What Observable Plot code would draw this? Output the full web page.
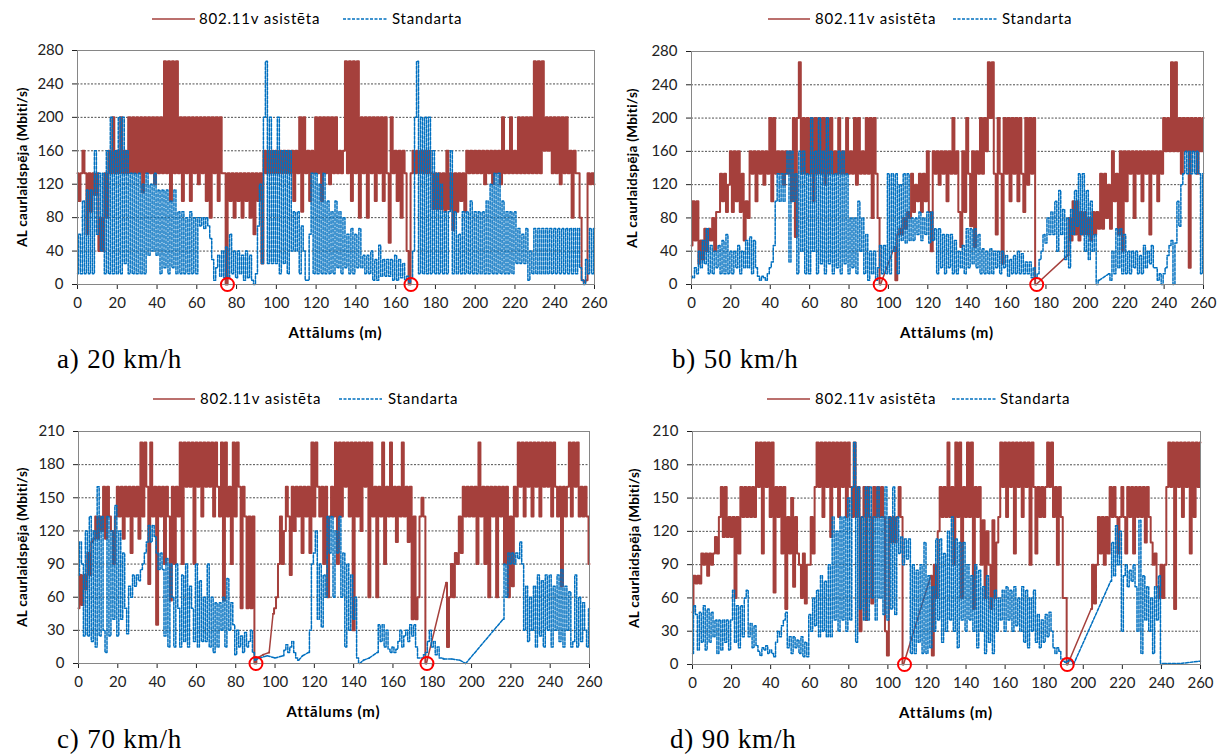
<!DOCTYPE html>
<html>
<head>
<meta charset="utf-8">
<script src="https://cdn.jsdelivr.net/npm/d3@7"></script>
<script src="https://cdn.jsdelivr.net/npm/@observablehq/plot@0.6"></script>
<style>
  body { margin: 0; background: #fff; }
  #root { position: relative; width: 1222px; height: 754px; overflow: hidden; font-family: Lato, "Open Sans", sans-serif; color: #000; }
  .abs { position: absolute; white-space: nowrap; line-height: 1; }
  .leg { font-size: 15px; letter-spacing: 0.8px; }
  .cap { font-family: "Liberation Serif", "Times New Roman", serif; font-size: 27px; letter-spacing: 0.8px; }
  .xt { font-weight: bold; font-size: 15px; letter-spacing: 0.8px; transform: translateX(-50%); }
  .yt { font-weight: bold; font-size: 13.5px; letter-spacing: 0.3px; transform: translate(-50%, -50%) rotate(-90deg); }
  svg.leg-swatch { position: absolute; overflow: visible; }
</style>
</head>
<body>
<div id="root"></div>
<script>
// Distance axis: one sample per metre, 0..260 m. null = no sample (line joins across).
const seriesNames = ["802.11v asistēta", "Standarta"];
const xTicks = [0, 20, 40, 60, 80, 100, 120, 140, 160, 180, 200, 220, 240, 260];
const yTicksHigh = [0, 40, 80, 120, 160, 200, 240, 280];
const yTicksLow = [0, 30, 60, 90, 120, 150, 180, 210];

// a) 20 km/h
const aRed = [
  133,100,133,160,133,60,133,87,133,107,
  133,40,80,40,133,80,160,133,200,133,
  160,133,200,133,160,133,200,133,200,133,
  200,133,200,110,200,133,200,133,200,120,
  200,133,200,133,267,133,267,100,267,133,
  267,133,200,100,200,133,200,100,200,133,
  200,120,200,133,200,100,200,80,200,133,
  200,100,200,133,133,0,133,100,133,80,
  133,100,133,80,133,100,133,80,133,60,
  133,100,133,25,160,133,160,133,160,133,
  160,133,160,133,160,133,160,133,160,100,
  160,133,200,87,200,133,160,100,160,133,
  200,133,200,100,200,133,200,120,200,133,
  200,133,160,133,160,267,133,267,100,267,
  133,267,80,200,133,200,80,200,133,200,
  100,200,133,200,100,200,133,50,200,133,
  160,100,160,80,160,133,40,0,133,160,
  133,160,133,160,133,160,133,160,133,90,
  133,90,133,90,133,87,160,90,133,65,
  133,87,133,100,133,87,160,133,160,133,
  160,133,160,133,160,120,160,133,160,120,
  160,133,160,120,200,133,160,133,200,133,
  160,133,200,133,200,133,200,133,200,133,
  267,133,267,133,267,160,200,160,200,133,
  200,133,200,120,200,133,200,133,160,80,
  160,133,133,80,5,3,5,133,120,133,
  120
];
const aBlue = [
  13,60,13,100,13,113,13,113,13,160,
  60,133,40,133,13,160,13,200,13,160,
  13,200,13,200,25,160,13,133,13,133,
  13,133,13,120,13,133,35,120,40,133,
  35,113,13,113,20,113,13,100,20,113,
  13,87,13,87,13,80,13,87,13,80,
  13,80,70,80,67,80,70,55,30,5,
  20,35,10,40,8,45,8,60,13,40,
  8,40,13,35,5,40,8,35,5,0,
  13,70,120,25,200,267,25,200,25,160,
  25,200,13,160,25,160,13,160,40,87,
  40,87,13,70,40,5,5,60,133,13,
  133,13,120,13,133,13,100,13,87,13,
  100,20,87,13,80,20,60,13,67,13,
  60,20,67,20,35,13,35,13,40,5,
  30,5,47,10,30,10,30,10,30,5,
  35,5,30,8,25,5,10,3,8,40,
  200,267,13,200,13,200,13,200,13,160,
  13,133,13,120,13,87,13,87,160,13,
  87,13,60,13,87,13,87,13,100,13,
  87,13,87,13,87,13,100,13,120,13,
  133,13,133,13,100,13,87,13,87,13,
  87,25,67,25,60,25,67,5,40,13,
  67,13,67,13,67,13,67,13,67,13,
  67,13,67,13,67,13,67,13,67,13,
  67,13,67,20,5,0,30,13,67,13,
  67
];
const aHandover = [75.4, 167.7];

// b) 50 km/h
const bRed = [
  47,100,53,100,25,53,30,67,40,67,
  53,80,40,87,87,133,100,133,87,120,
  160,87,160,100,160,87,133,53,100,80,
  160,133,160,100,160,133,160,120,160,133,
  200,100,200,133,160,133,160,120,160,133,
  160,100,200,57,200,267,133,200,133,200,
  133,200,100,200,133,200,133,200,120,200,
  133,200,133,160,133,200,133,160,133,200,
  133,160,133,200,120,200,133,160,133,200,
  133,200,80,200,133,80,0,null,null,null,
  null,null,null,45,5,60,67,60,80,67,
  87,80,133,87,120,100,133,87,133,100,
  160,87,40,160,133,160,120,160,133,160,
  100,160,133,200,133,160,87,45,160,87,
  200,133,70,160,45,160,133,200,133,200,
  160,267,200,267,133,60,200,133,25,200,
  133,200,100,200,133,200,100,200,133,87,
  200,120,200,133,200,0,null,null,null,null,
  null,null,null,null,null,null,null,null,null,null,
  null,35,80,53,100,60,100,53,87,60,
  87,60,80,53,87,60,87,67,133,67,
  133,80,120,67,160,100,133,60,160,40,
  160,100,160,133,160,80,160,133,160,100,
  160,133,160,60,160,133,160,100,160,133,
  200,160,200,160,267,160,267,160,200,133,
  200,160,200,20,200,160,200,133,200,160,
  200
];
const bBlue = [
  10,8,20,13,40,20,53,25,67,13,
  47,13,40,20,47,13,53,13,60,13,
  40,13,40,20,47,13,40,20,53,20,
  57,13,53,20,10,5,10,8,5,13,
  20,27,47,100,133,100,133,100,133,160,
  27,160,100,133,13,160,40,160,13,133,
  13,200,40,160,13,200,25,160,13,200,
  25,160,13,133,20,160,13,160,25,133,
  13,80,20,80,13,100,40,80,13,60,
  5,40,13,40,5,20,47,13,47,13,
  133,13,133,40,133,13,120,53,133,50,
  133,53,80,53,80,60,87,53,80,60,
  87,50,87,53,67,13,67,20,60,13,
  60,20,60,13,53,13,40,20,47,13,
  67,20,67,25,67,20,60,13,43,13,
  40,13,43,13,40,20,40,13,40,20,
  35,10,30,13,35,13,40,13,37,13,
  27,13,27,8,20,8,13,30,40,60,
  50,80,60,87,60,100,40,113,60,90,
  30,80,20,90,60,113,70,133,60,133,
  40,113,30,100,40,60,0,5,null,null,
  null,null,13,5,40,13,67,20,67,13,
  60,13,40,13,40,20,40,13,35,13,
  47,20,40,25,47,20,20,5,13,0,
  13,20,35,47,53,0,50,100,70,120,
  133,160,133,160,133,160,133,160,133,13,
  133
];
const bHandover = [95.8, 175.3];

// c) 70 km/h
const cRed = [
  50,80,53,80,67,100,80,110,113,133,
  113,133,120,160,113,160,133,120,90,133,
  160,133,160,113,160,133,160,100,160,133,
  160,113,200,133,200,160,72,200,133,160,
  35,160,133,160,90,160,133,57,160,90,
  160,133,200,90,200,160,200,160,200,90,
  200,160,200,133,200,160,200,160,200,133,
  200,160,133,200,57,200,133,160,90,200,
  133,200,160,50,160,133,50,133,50,133,
  0,5,null,null,8,null,null,10,null,45,
  50,60,90,133,90,120,160,133,80,160,
  120,160,133,160,100,160,133,160,100,200,
  133,200,160,133,160,90,160,60,133,160,
  133,200,90,200,133,200,160,200,133,200,
  30,200,133,200,120,200,160,200,60,200,
  133,160,60,160,133,200,90,160,133,200,
  133,160,110,160,133,200,133,160,110,160,
  40,133,40,60,133,150,133,0,null,null,
  null,null,null,null,null,null,null,73,15,60,
  90,60,100,90,133,100,160,133,160,133,
  160,133,160,90,200,133,160,90,160,60,
  160,133,160,60,160,133,160,90,160,60,
  133,70,160,133,200,160,200,133,200,160,
  200,133,200,160,200,133,200,160,200,160,
  200,133,200,160,133,160,70,160,133,160,
  200,133,200,160,200,133,160,133,160,133,
  90
];
const cBlue = [
  80,110,90,25,120,25,133,20,120,15,
  160,25,133,30,10,133,25,120,40,143,
  25,120,40,100,50,27,70,60,80,70,
  80,75,85,90,100,110,125,110,125,115,
  100,85,100,85,25,95,15,90,60,15,
  90,50,15,80,20,90,15,70,50,20,
  90,15,75,20,60,20,90,15,60,10,
  55,15,55,30,60,15,77,30,55,35,
  8,30,15,25,10,28,15,20,30,10,
  3,null,5,null,null,null,7,null,null,null,
  5,null,null,null,7,12,17,10,15,20,
  10,5,3,null,7,null,null,10,30,90,
  100,120,40,90,33,80,60,133,100,133,
  60,120,100,133,60,100,15,90,30,80,
  40,60,5,0,null,3,null,null,5,null,
  null,null,10,35,20,35,15,30,13,10,
  15,10,13,20,30,15,25,30,20,35,
  25,35,15,5,5,5,8,10,20,30,
  15,20,8,15,5,5,4,null,null,null,
  4,null,null,null,3,null,null,0,null,null,
  null,null,null,null,null,null,null,null,null,null,
  null,null,null,null,null,null,40,90,60,100,
  90,100,90,100,95,110,90,30,70,20,
  60,30,70,15,80,25,75,15,80,30,
  80,15,70,30,80,20,85,15,70,30,
  65,15,20,80,15,60,20,55,30,15,
  50
];
const cHandover = [90.3, 177.3];

// d) 90 km/h
const dRed = [
  47,80,73,80,73,100,90,100,80,100,
  90,100,115,100,133,160,115,160,115,133,
  115,133,60,133,100,160,133,160,133,160,
  133,160,133,200,160,200,100,200,160,200,
  133,200,65,160,133,160,100,160,50,133,
  100,150,70,133,100,90,60,100,55,90,
  90,133,100,160,200,160,200,133,200,160,
  200,115,200,160,200,133,200,160,200,133,
  200,160,133,200,133,160,30,133,160,40,
  160,133,55,160,133,160,133,160,133,30,
  8,133,110,133,110,133,160,133,0,null,
  null,null,null,null,null,null,null,null,null,null,
  null,null,80,8,90,60,120,160,133,160,
  133,200,133,160,90,200,133,200,60,160,
  133,200,133,200,50,160,133,160,90,130,
  60,120,90,50,130,60,110,133,200,160,
  200,133,200,160,200,100,200,160,200,133,
  200,160,200,90,200,160,100,160,133,160,
  133,160,200,160,200,133,160,90,160,133,
  60,60,0,null,null,null,null,null,null,null,
  null,null,null,null,50,90,55,90,133,100,
  133,90,133,100,160,133,160,133,100,133,
  160,133,100,160,133,160,100,160,133,160,
  133,160,110,160,133,110,90,100,70,60,
  90,60,90,160,200,160,200,50,200,160,
  200,133,200,160,200,100,200,133,200,160,
  200
];
const dBlue = [
  10,53,45,13,47,20,53,13,50,20,
  47,25,40,10,40,13,40,20,40,13,
  40,67,20,53,15,53,25,60,67,25,
  37,15,35,17,12,8,15,13,17,10,
  13,10,7,20,30,25,35,40,47,15,
  25,10,25,15,22,10,25,7,20,7,
  45,30,60,35,67,25,80,30,75,25,
  90,25,133,40,120,30,133,40,133,30,
  150,40,160,200,20,160,50,133,40,160,
  40,160,60,133,40,160,60,133,45,160,
  40,133,50,160,45,133,100,115,90,113,
  95,113,10,90,10,85,20,90,10,110,
  10,80,15,70,30,113,40,113,20,100,
  30,120,40,133,30,113,15,110,40,110,
  30,90,40,80,30,90,15,85,30,70,
  10,80,20,60,10,67,30,60,40,67,
  30,70,40,67,30,70,35,60,30,70,
  20,67,15,60,30,67,20,45,15,40,
  20,45,25,47,30,15,10,15,12,5,
  3,2,3,5,3,0,null,null,null,null,
  null,null,null,null,null,null,null,null,null,null,
  null,null,null,null,75,110,80,125,90,120,
  30,80,90,70,85,75,90,70,30,130,
  10,80,40,70,30,60,10,70,40,80,
  0,1,null,null,null,null,null,null,null,null,
  1,null,null,null,null,null,null,null,null,null,
  3
];
const dHandover = [108.5, 191.8];

const RED = "#A5403C";
const BLUE = "#0070C0";

const panels = [
  { red: aRed, blue: aBlue, hand: aHandover, yTicks: yTicksHigh, caption: "a) 20 km/h",
    left: 0, top: 0, ml: 77, mr: 17, mt: 50, mb: 36,
    legend: { y: 19, r: [152, 195, 199], b: [343, 387, 392] }, capX: 57, yTitleX: 23 },
  { red: bRed, blue: bBlue, hand: bHandover, yTicks: yTicksHigh, caption: "b) 50 km/h",
    left: 611, top: 0, ml: 80, mr: 19, mt: 51, mb: 36,
    legend: { y: 19, r: [768, 810, 815], b: [953, 997, 1002] }, capX: 672, yTitleX: 633 },
  { red: cRed, blue: cBlue, hand: cHandover, yTicks: yTicksLow, caption: "c) 70 km/h",
    left: 0, top: 380, ml: 78, mr: 22, mt: 51, mb: 37,
    legend: { y: 399, r: [153, 195, 200], b: [339, 382, 388] }, capX: 57, yTitleX: 23 },
  { red: dRed, blue: dBlue, hand: dHandover, yTicks: yTicksLow, caption: "d) 90 km/h",
    left: 611, top: 380, ml: 81, mr: 22, mt: 51, mb: 36,
    legend: { y: 399, r: [767, 810, 815], b: [952, 996, 1000] }, capX: 670, yTitleX: 635 }
];

const root = document.getElementById("root");
const W = 611, H = 320;

function addText(cls, text, left, top) {
  const el = document.createElement("div");
  el.className = "abs " + cls;
  el.textContent = text;
  el.style.left = left + "px";
  el.style.top = top + "px";
  root.appendChild(el);
  return el;
}

function addSwatch(x0, x1, y, color, dash) {
  const ns = "http://www.w3.org/2000/svg";
  const s = document.createElementNS(ns, "svg");
  s.setAttribute("class", "leg-swatch");
  s.setAttribute("width", x1 - x0);
  s.setAttribute("height", 4);
  s.style.left = x0 + "px";
  s.style.top = (y - 2) + "px";
  const l = document.createElementNS(ns, "line");
  l.setAttribute("x1", 0); l.setAttribute("x2", x1 - x0);
  l.setAttribute("y1", 2); l.setAttribute("y2", 2);
  l.setAttribute("stroke", color);
  l.setAttribute("stroke-width", 1.6);
  if (dash) l.setAttribute("stroke-dasharray", dash);
  s.appendChild(l);
  root.appendChild(s);
}

// Split a per-metre series into runs of consecutive samples; the dense runs are
// drawn as steps, and straight segments join one run to the next across gaps.
function seriesParts(arr) {
  const runs = [];
  let cur = null;
  arr.forEach((y, x) => {
    if (y == null) { cur = null; return; }
    if (!cur) { cur = []; runs.push(cur); }
    cur.push({ x, y });
  });
  const dense = runs.flatMap((r, i) => r.map((d) => ({ ...d, k: i })));
  const joins = runs.slice(1).flatMap((r, i) => [
    { ...runs[i][runs[i].length - 1], k: i },
    { ...r[0], k: i }
  ]);
  return { dense, joins };
}

for (const p of panels) {
  const yMax = p.yTicks[p.yTicks.length - 1];
  const grid = p.yTicks.filter((v) => v > 0 && v < yMax);
  const red = seriesParts(p.red);
  const blue = seriesParts(p.blue);
  const blueStyle = { x: "x", y: "y", z: "k", stroke: BLUE, strokeWidth: 1.5, strokeDasharray: "3,1.5" };
  const redStyle = { x: "x", y: "y", z: "k", stroke: RED, strokeWidth: 2 };
  const chart = Plot.plot({
    width: W,
    height: H,
    marginLeft: p.ml,
    marginRight: p.mr,
    marginTop: p.mt,
    marginBottom: p.mb,
    style: { fontFamily: "Lato, 'Open Sans', sans-serif", fontSize: "15px", color: "#222", background: "transparent" },
    x: { domain: [0, 260], ticks: xTicks, tickSize: 5, tickPadding: 8, label: null, tickFormat: (d) => d },
    y: { domain: [0, yMax], ticks: p.yTicks, tickSize: 5, tickPadding: 9, label: null, tickFormat: (d) => d },
    marks: [
      Plot.ruleY(grid, { stroke: "#000", strokeWidth: 0.7, strokeDasharray: "2,1.5" }),
      Plot.line(red.dense, { ...redStyle, curve: "step" }),
      Plot.line(red.joins, { ...redStyle, strokeWidth: 1.5 }),
      Plot.line(blue.dense, { ...blueStyle, curve: "step" }),
      Plot.line(blue.joins, { ...blueStyle, strokeWidth: 1.5 }),
      Plot.frame({ stroke: "#868686" }),
      Plot.dot(p.hand, { x: (d) => d, y: () => 0, r: 6.5, stroke: "#FF0000", strokeWidth: 2, fill: "none", clip: false })
    ]
  });
  chart.style.position = "absolute";
  chart.style.left = p.left + "px";
  chart.style.top = p.top + "px";
  root.appendChild(chart);

  // legend above the plot
  const lg = p.legend;
  addSwatch(lg.r[0], lg.r[1], lg.y, RED, null);
  addText("leg", seriesNames[0], lg.r[2], lg.y - 8);
  addSwatch(lg.b[0], lg.b[1], lg.y, BLUE, "3,1.5");
  addText("leg", seriesNames[1], lg.b[2], lg.y - 8);

  // axis titles
  const plotL = p.left + p.ml, plotR = p.left + W - p.mr;
  const plotT = p.top + p.mt, plotB = p.top + H - p.mb;
  addText("xt", "Attālums (m)", (plotL + plotR) / 2, plotB + 41);
  addText("yt", "AL caurlaidspēja (Mbiti/s)", p.yTitleX, (plotT + plotB) / 2);

  // caption under the panel
  addText("cap", p.caption, p.capX, p.top + 346);
}
</script>
</body>
</html>
